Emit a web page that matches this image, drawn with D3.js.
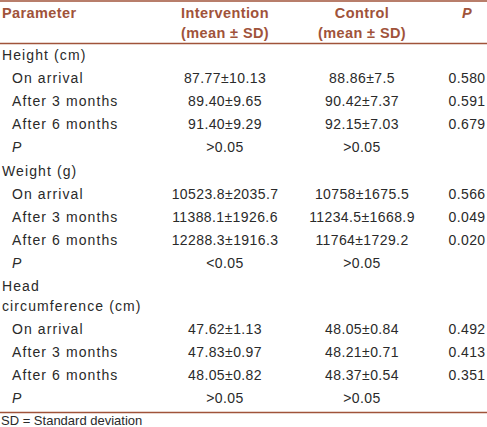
<!DOCTYPE html>
<html><head><meta charset="utf-8">
<script src="https://cdn.jsdelivr.net/npm/d3@7"></script>
<style>html,body{margin:0;padding:0;background:#fff;}</style>
</head><body>
<svg id="chart" width="487" height="427"></svg>
<script>
const headers = [["Parameter"], ["Intervention", "(mean ± SD)"], ["Control", "(mean ± SD)"], ["P"]];
const rowLabels = [
  ["Height (cm)"], ["On arrival"], ["After 3 months"], ["After 6 months"], ["P"],
  ["Weight (g)"], ["On arrival"], ["After 3 months"], ["After 6 months"], ["P"],
  ["Head", "circumference (cm)"], ["On arrival"], ["After 3 months"], ["After 6 months"], ["P"]
];
const rowIndent = [0,1,1,1,1, 0,1,1,1,1, 0,1,1,1,1];
const intervention = ["", "87.77±10.13", "89.40±9.65", "91.40±9.29", ">0.05",
  "", "10523.8±2035.7", "11388.1±1926.6", "12288.3±1916.3", "<0.05",
  "", "47.62±1.13", "47.83±0.97", "48.05±0.82", ">0.05"];
const control = ["", "88.86±7.5", "90.42±7.37", "92.15±7.03", ">0.05",
  "", "10758±1675.5", "11234.5±1668.9", "11764±1729.2", ">0.05",
  "", "48.05±0.84", "48.21±0.71", "48.37±0.54", ">0.05"];
const pValues = ["", "0.580", "0.591", "0.679", "",
  "", "0.566", "0.049", "0.020", "",
  "", "0.492", "0.413", "0.351", ""];
const footnote = "SD = Standard deviation";

const W = 487, accent = "#a0533a", txt = "#2a2a2a";
const svg = d3.select("#chart");
const bodyFont = "'Liberation Sans', Arial, sans-serif";
const headFont = "'Liberation Sans', Arial, sans-serif";

const colX = d3.scaleOrdinal().domain([0,1,2,3]).range([2, 225, 362, 467]);
const colAnchor = ["start", "middle", "middle", "middle"];

[1, 43.5, 412.5].forEach(yy => {
  svg.append("line").attr("x1",0).attr("x2",W).attr("y1",yy).attr("y2",yy)
    .attr("stroke",accent).attr("stroke-width",1.6);
});

const hg = svg.append("g");
headers.forEach((lines, c) => {
  lines.forEach((t, j) => {
    const el = hg.append("text")
      .attr("x", colX(c)).attr("y", 18 + j * 20)
      .attr("text-anchor", colAnchor[c])
      .attr("font-family", headFont).attr("font-weight", "bold")
      .attr("font-size", 14.5).attr("fill", accent).attr("letter-spacing", 0.4).text(t);
    if (c === 3) el.attr("font-style", "italic");
  });
});

const lineH = 23.1, wrapH = 20;
const rowY = [];
let y = 60;
rowLabels.forEach((lab) => { rowY.push(y); y += lineH + (lab.length - 1) * wrapH; });

const rows = svg.append("g").selectAll("g.row").data(rowLabels.map((l, i) => ({
  label: l, indent: rowIndent[i], iv: intervention[i], cv: control[i], p: pValues[i], y: rowY[i]
}))).join("g").attr("class","row").attr("transform", d => `translate(0,${d.y})`);

rows.each(function(d) {
  const g = d3.select(this);
  d.label.forEach((t, j) => {
    const el = g.append("text").attr("x", colX(0) + d.indent * 10).attr("y", j * wrapH)
      .attr("font-family", bodyFont).attr("font-size", 14).attr("letter-spacing", 1.1)
      .attr("fill", txt).text(t);
    if (t === "P") el.attr("font-style","italic");
  });
  [[1, d.iv], [2, d.cv], [3, d.p]].forEach(([c, v]) => {
    if (!v) return;
    g.append("text").attr("x", colX(c)).attr("y", 0).attr("text-anchor","middle")
      .attr("font-family", bodyFont).attr("font-size", 14).attr("letter-spacing", 0.4)
      .attr("fill", txt).text(v);
  });
});

svg.append("text").attr("x", 1).attr("y", 425).attr("font-family", headFont)
  .attr("font-size", 13).attr("fill", txt).text(footnote);
</script>
</body></html>
